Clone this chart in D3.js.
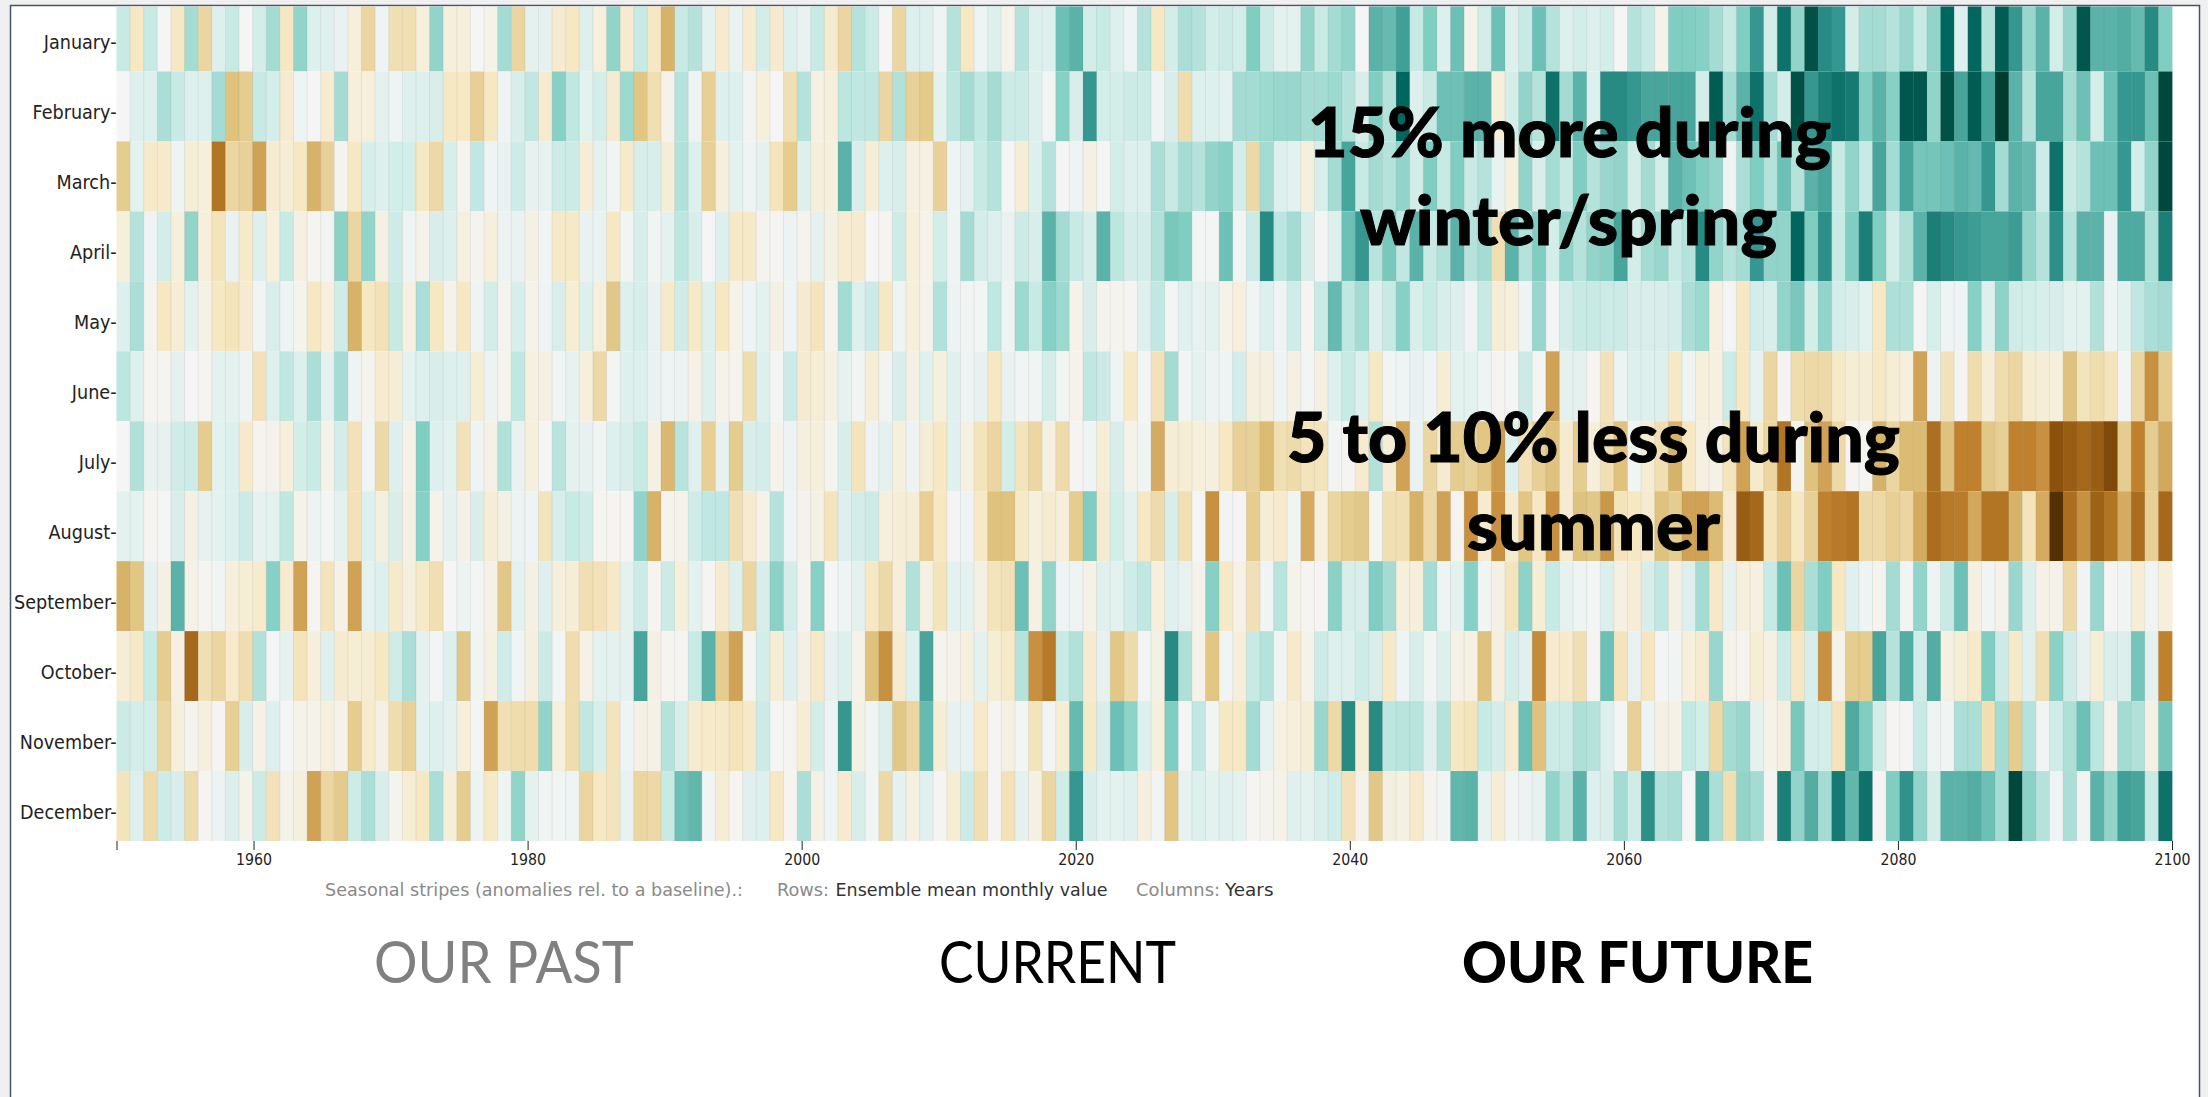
<!DOCTYPE html>
<html>
<head>
<meta charset="utf-8">
<title>Seasonal stripes</title>
<script src="https://cdn.jsdelivr.net/npm/d3@7"></script>
<style>
  html, body { margin: 0; padding: 0; background: #f0f0f0; overflow: hidden; }
  svg { display: block; }
  text { font-family: "DejaVu Sans", sans-serif; }
</style>
</head>
<body>
<div id="stripes"></div>
<script>
// rows of the heatmap
var monthNames = ["January", "February", "March", "April", "May", "June", "July", "August", "September", "October", "November", "December"];

// one value per year, 1950 to 2100 (+ wetter / teal, - drier / brown)
var january = [2,-2,2,0,-2,3,-3,1,2,0,1.5,3,-2,3.5,1,1,.5,-1,-3,.3,-2.5,-2.5,-1,3.5,-1,-1,0,-.5,3,-3,.7,.7,-1.5,-2,1,-1,3.5,-1.5,2,-2,-4.5,2,2.5,.7,-1.5,
  .5,-1.5,1.5,-1.5,1,.5,2,-1.5,-3,2.5,1.8,0,-3,1,1,.3,2.5,-2,.3,1,-.5,2.5,1,1,4.5,5,1.5,2,1,.3,2.5,-2,1.5,2.8,2.5,1.5,1.8,1.5,4,1.8,.8,.8,3.5,2,3,3.5,0,5,4.7,5.7,2,4,1,4.5,
  -.5,1.5,4.5,1,2,4.5,2.5,1,1.5,1,1.5,0,2.5,2,-.5,4,4,3.8,3,2,4,6,1.5,7.5,3.5,9,6.5,6,1.5,3,3,2.5,3.3,2,3.5,8,1,8,2.5,8.5,6,3.3,5,1.5,3.5,8.7,5,5,5.2,4.7,6.5,4];
var february = [0,1,1,2.8,2,1,1,3,-4,-3.5,2,1.5,-1.5,.3,0,-1.5,3,-1,-1,.7,.3,1,1,1.2,-2,-2,-3.3,-2,.3,1.3,2.2,-1.5,3.8,2.2,.8,1.5,-1.5,3.2,-3.8,-2.5,-.4,2.5,.3,-3.3,1,
  1,.2,-1,0,-2.5,2.5,-.8,-1,2.3,2.2,2.2,-3,2.6,-3.2,-3.6,.8,2.3,3,2.2,3,1.8,1.8,1,.2,3.8,1.2,6,1.5,1.5,1.8,1.8,.3,1.2,-2.6,1,1,.8,3,3,3.2,3.3,3.3,3,3,3.2,2.5,1.2,4,2.5,8,1,2,4.5,4.5,
  5,5,-1,1.5,3.5,2.5,7.5,3,5,1,6.5,6.5,6,5.5,5.5,5.5,5.5,1.5,8.5,3,5,7.5,3,1.5,9,6,7,7.5,7.2,4,5,3.8,8.7,8.7,3.5,9,5.5,8.5,5.5,10,5,2.5,5.5,5.5,3,4.5,1.5,4.5,6,6,4.5,9.5];
var march = [-3.5,.8,-1.7,-1.7,.3,-1.2,-1,-6.5,-3,-3.2,-5,-1.5,-1.2,-2,-4.5,-3.2,-.3,-2,1.3,1,1.5,1.5,-2,-2.8,1.3,-.3,2.2,.3,.5,1.7,.6,.6,1.7,1.8,-1.2,.8,.2,-1.7,1.3,1.2,-1.2,2.6,1,-3.2,-1,
  .8,.3,.7,-2.2,-3.5,1,-1,-1,5,1.2,-1.2,1,1.2,-.8,-.8,-3.2,.3,.7,2,2.5,0,-1.2,1,2.5,0,.3,-.8,0,1.5,1,1,2.8,2,3,2.5,3.5,3.8,1.4,-2.8,3,1,.8,-1,1.3,3,5.5,2,3,2.5,3.5,1.5,4,2,4,
  2,2.5,.5,-1,3.5,1.2,3,2,4,2.5,3.3,3.5,1.5,3,1.5,5,4.5,4,3.5,.3,2.8,4,2.5,4.5,2.5,5,5.5,2,3.5,2,5.5,3,5.5,4.3,4.3,4.5,5,4.7,6,3,5,4.7,1.7,7.5,2,2.5,4.5,4.5,6,1.5,3.5,9.5];
var april = [-1,2.5,.3,1.5,-1,3.5,-1,-2.2,.5,-1.7,1,-1,2,-.8,-.2,.2,3.7,-3,3.5,-.7,1.7,.3,-.5,1.2,1,-.9,-.3,-1,.4,.5,-.7,.2,-1.8,-1.8,.5,.5,-2,.2,1.3,.2,.8,2.3,1.3,0,1,
  -1.8,-1.8,-.3,-.1,.4,-.3,.8,-.7,-1.4,-1.5,0,-.2,1.7,-1,-.5,1.5,.3,3,1.4,1,.5,1.8,1.3,5,3,2,1.3,5,2.3,1.4,1.4,2.6,4.2,4,.2,.1,4.5,.2,1.8,6.5,2.3,3,1.2,.1,1,4.5,6,2.4,4.2,2.2,5,2,2.6,5,
  2.5,3,-2.5,5,2.5,4,1.5,3.5,2.5,3.5,3.8,5.5,1.5,3,3.3,2,2.5,6.5,3.5,2.5,3,6,3.5,3.5,8,4,6.3,2,4,7,4,1.5,2.7,5,7,6.5,6,5.8,5.5,5.5,5.8,3.5,2.5,6.3,2.5,5,5,.5,5.3,5.3,2.7,7];
var may = [1,2.8,-.3,-2,-1.2,.8,-.6,-2,-2.2,-1.5,.2,1.2,.3,-.3,-2,-1,1.6,-4.5,-2,-2.3,2,-.8,2.8,-2,-.5,-2,.3,1.5,-.3,1.3,-.5,.3,1.2,-1.3,1,-1,-3.7,1,1.3,.5,-1.7,1.6,-1.8,1,-2,
  -.5,.3,.8,-.7,.3,-1.5,-2.2,-.3,3,1,1.8,-2,.3,-1,-.5,2.6,.4,.2,.1,2.2,.3,3.2,2,3.8,3.2,-.5,1.2,-.3,-.3,-.1,1,2.2,.1,.9,.6,.8,-.5,-1,.2,1,.3,1.6,-.2,2,4.7,2.2,3,1,2,3.8,1.3,2,1.2,1,
  .3,2,-1.2,-1,.3,3.3,.1,1.4,2,2,1.8,1.8,1.2,1.2,1.2,1.4,2.8,3.2,-.8,.1,-2,1.4,1.3,3.5,4.2,1.5,3.5,1.4,1.2,.8,-2,2.7,2.7,.1,1.3,.3,.3,3.8,1,3.6,1.6,1.5,1.3,1.2,.8,.8,2.6,.3,.8,2.2,2.8,3];
var june = [2.3,1,-.2,-.2,.7,0,-.2,.8,.7,.3,-2.3,1,2.2,1,2.8,.8,3,.3,-.3,-1.5,-1.2,.8,1,1.2,1,1,-1.3,.4,-.3,2.2,-.8,-.7,.2,.6,-1,-2.8,.1,1,1,.5,.3,.4,-.6,1,-.5,
  -.3,-2.6,1,.1,1.8,-1.5,-1.2,-.8,.6,.2,-1.2,.2,1.2,-.7,.9,-1,.9,.3,.6,-2,.5,.2,.2,1.5,.2,-.4,2.2,1.8,.3,-1.8,.1,-2.3,3,.2,.7,.4,.3,1.4,-.9,-.9,.3,-.7,.1,-.9,1,2,1,-2,.2,.3,.5,.3,-1.3,.8,
  .8,.3,-.1,0,1.8,.1,-5,.7,.7,-.2,-2.3,.4,1,1,1,-1.8,.3,-1,-.8,1.8,-2,.6,-3,-.1,-2.6,-2.8,-2.8,-1.8,-1.3,-1.2,-2,-1.2,-1,-5,.4,-2.3,-.1,-2.6,-1.2,-2.6,-3,-1.4,-1.2,-1,-4,-2.2,-2.6,-2.2,.1,-3,-5.5,-3.5];
var july = [0,2.6,.5,.6,1.6,1.7,-3.5,.8,1,-1.7,-.3,-.4,-1,1.5,1.9,-.5,1.4,-2.3,.2,-2.8,1,-.6,4,1,.8,-2.3,.3,-.6,2.6,.5,-1,0,2.4,.7,.6,.2,1,1.2,2,-.8,-4.3,2.4,.9,-3.3,.6,
  -3.5,1.2,1.4,-.4,.4,-.9,-1,-.3,1.3,-2.2,.4,.8,-1,.4,-1.2,-2,.9,-.8,-2.2,-3,1.5,-2.2,-2.9,-.8,-2.7,-.1,.3,-1.2,1.2,-.5,.2,-4.7,-1.2,-1.3,-1,-.9,-2,-3.3,-3.2,-4.2,-2.5,-2.7,-2.2,-2.2,.2,-.2,-1.5,2.6,-1.2,-5,.5,-3,-1.5,-3.5,
  -3.2,-3.8,-5.2,1,-2.3,-3.3,-4,-1.5,-3.5,-1,-2.5,-4,.2,-1.4,-2.5,-4.5,-2,-.8,-.6,-2.2,-5,-1.7,-3,-6.5,-.3,-4,-5,-2.8,-.2,-.2,-4.5,-3,-4.2,-4.2,-6.7,-4,-6,-6,-3.7,-3.3,-6,-6,-5.5,-8,-7.5,-7,-7.5,-8.5,-3.5,-6,-3.5,-4.8];
var august = [.7,.8,-.2,0,1.2,-.7,.6,.8,1,1.8,.6,.8,2.2,-.5,.4,.1,.7,-2.3,1,-.9,1.2,-.8,3.8,-.4,.8,-.6,1.2,-1.2,-.7,.4,.3,-2.2,1.3,2,1.6,-.2,-.2,-.1,3.5,-4.5,-.3,-.4,1.6,2.2,2.2,
  -2.5,-1.5,-.5,2.5,.3,-.4,-.7,-2.2,1,1.4,1.8,-1,-1.2,-1.2,-3.3,-2,.1,.3,-1.8,-4,-4,-1.8,-1,-1.5,-1,-3.5,4,-1.5,1.5,.8,-2,-2.7,1.3,-2.5,.1,-5.5,.2,-.1,-3.5,-1.2,-1.5,.2,-4.7,-1,-3,-3.5,-3.7,-.2,-2.5,-2.5,-4.5,-2.8,-5,-.3,
  -5.5,-1.5,-5.5,-1.5,-3.8,-2,-5.5,-1.5,-4,-3.7,-5.3,-2.2,-2,-1.5,-4,-3.5,-5,-5,-4.2,-1.5,-7.5,-7,-2.2,-3.3,-2,-3.3,-6,-6.3,-6.5,-2.8,-2.8,-3.3,-3,-4.7,-6.8,-6.3,-6.2,-4.8,-6.5,-6.5,-4.5,-2.2,-4.7,-10,-6.8,-5.5,-7.3,-6.5,-4.7,-6.8,-3.3,-7];
var september = [-4.5,-3.8,.6,-.7,5,-.6,-.2,.2,-1,-1.3,-1.6,3.8,-1.5,-5,-.2,-2.2,-.6,-5,.8,1,-1.7,-.9,-1.8,-2.5,0,.4,.1,-.6,-3.7,.8,-.7,1,-1,-1.2,-2.5,-2.3,-1.8,.7,1.8,-.2,1.8,-1,.8,-.2,-1.5,
  1,-3,1.2,3.7,1.4,-.3,3.8,0,.3,.7,-2,-2.8,-1.1,2.6,-.8,-2.2,.8,.8,-.7,-2.2,-2.4,4.5,-.8,3.5,.3,.3,-.6,.9,.8,1.6,2.2,-1,.9,.6,-.4,3.8,-1.8,-.6,-2.4,.2,2.4,-.5,-.2,-.1,3.7,1.3,1.2,4,3,-1,-1,3,.3,.8,
  3.8,.2,-.7,-2.2,3.6,-1.3,2,.6,.3,.1,1.1,-.8,-1.2,1.3,2.2,-.7,1,3,-1.8,.6,-1,-.8,2,4.5,-3,2.8,4,-2,.9,.3,-.3,3,.2,3.5,.3,2,4.5,-.8,.2,-.5,3.3,1.1,-.6,-.5,-2.8,.2,3.3,-.1,.2,-1.2,.2,-1];
var october = [-1.2,-1.8,2,-3.5,-.8,-7,-2.5,-3,-1.7,-2.6,2.6,.1,.6,-2.2,-1,.9,-1.5,-1.3,-1.4,-2,1.6,2.8,.7,.1,1,-3.7,.2,-.8,1.6,.2,-.9,1.8,.1,-2.6,-.6,.8,.7,.7,5.5,-.7,-.2,-.2,2,5,-3.5,
  -5,-.2,1.5,-1.3,1,-.7,-1.8,.6,1,-.5,-4,-5.5,-1.5,1,5.5,-.3,-.4,-1,.8,-1.3,-1.8,2.5,-5.5,-6.3,2,2.6,-1.5,.6,-3.7,-2.7,.2,-.7,6.5,2.7,-.5,-3.8,.2,-1.1,2,2.5,.2,-1.7,-.4,1.8,1,1,1.7,1.2,-1.8,.3,1.2,.2,1,-.6,
  -.8,-4,-.9,1.5,.9,-5.7,-1.5,-1.7,-2.5,-.1,4.5,-2.2,.5,-2.1,.1,.2,-1,-1.5,3.3,-.5,-.3,-1.3,-.8,1.7,-2,1.3,-5.5,-.5,-3.5,-3.5,5.5,2.5,5.2,1.6,5.2,-.7,-1.2,-1.7,4,1.8,-1.7,.9,-2.5,3.7,1.6,.6,-1.2,1.2,1.1,4.3,.7,-6];
var november = [1.8,1.4,1.5,-3,-1,-.3,-.9,-.1,-3.3,1.2,-.6,1,0,-.5,-.5,-1,-.4,-3.5,-1.6,-.7,-2.6,-3.2,.8,1,.8,-1,.1,-5,-2.5,-2.6,-2.6,3.5,-1,-2.6,2.2,1.3,-2.2,.3,-.7,-.6,2.5,1.3,-1.5,-1.7,-1.8,
  -2.2,-1.8,1.8,0,-.2,-1.3,1.5,.3,6,-.7,.2,1.1,-3.7,-3,4.7,-1.3,.6,.6,-1.7,-.1,-.7,.1,-2.2,.2,-1.3,4.7,-1.8,1.2,4.5,3.6,1,-1,4,.1,2.2,.2,-2,-2,3,.6,-.8,-1,-1.2,3.3,-2.8,6.5,-1.3,6.5,2.3,2.4,2.4,.9,2.5,-2,
  -2.2,2,1.4,-1.5,4.5,-4,1.8,1.8,2.7,2.5,1,.1,-3.2,.3,-.7,-.6,2.1,1.5,-2.8,3,3.3,.7,-.5,-.9,4.2,1.4,1.5,-2.2,5.3,4,1.5,-.1,-.1,2,.3,.2,2.8,2.8,-2.5,3,-3.5,2.5,.2,1.6,2.7,4.5,2.3,-.4,3,2.6,-.7,4.3];
var december = [-2.2,1,-2.7,1.7,1.2,-2.7,-.2,.4,1.1,-.5,1.8,-2.3,-.5,-.9,-5,-3,-3.6,1.7,2.8,1.2,-.3,-1.3,-2,2.8,-1.1,-3.5,.4,-1.8,.3,3.5,.7,.2,.2,.3,-3,-2,-2.2,.5,-3,-2.8,2,4.5,4.8,.2,-1.2,
  -.2,.9,1,-2,-.2,2.8,-.7,.3,-1.5,1.2,.2,-2.8,.7,-.8,.9,-.1,-1.3,1.8,-2.5,-.1,-2.3,.7,-.8,-3,1.6,6,1.2,.8,.8,.9,-.9,.2,-3.8,.6,1,.8,.9,.8,-.1,-.3,-.5,.9,.8,1.2,1.6,-2.3,-.4,-3.7,-.9,-.7,-1.7,-.3,.2,4.8,
  5,.5,-1.2,.2,.4,.6,3.5,2.4,5,1,1.2,3,1.6,6.3,2.6,2.8,.1,5.8,2.8,-2.5,3.5,3,-.2,7,3.5,5.2,3,7.2,4.8,7.5,-.1,4,6.2,3.5,1.5,5,5,5.2,4.5,3,9.5,3.7,2.5,.3,2.8,.2,5,3.5,5.7,5.5,2,7.5];

var monthValues = [january, february, march, april, may, june, july, august, september, october, november, december];

// x axis
var yearTicks = [1950, 1960, 1980, 2000, 2020, 2040, 2060, 2080, 2100];
var firstYear = 1950, lastYear = 2100;
var years = d3.range(firstYear, lastYear + 1);

// BrBG stops, piecewise linear
var colorStops = ["#543005", "#8c510a", "#bf812d", "#dfc27d", "#f6e8c3", "#f5f5f5", "#c7eae5", "#80cdc1", "#35978f", "#01665e", "#003c30"];

var width = 2208, height = 1097;
var margin = {top: 1.5, right: 36, bottom: 256, left: 116.5};

var svg = d3.select("#stripes")
  .append("svg")
    .attr("width", width)
    .attr("height", height);

// slide background and frame
svg.append("rect")
    .attr("x", 10.5).attr("y", 5.5)
    .attr("width", 2189).attr("height", 1100)
    .attr("fill", "white")
    .attr("stroke", "#44546a")
    .attr("stroke-width", 1.5);

svg.append("clipPath")
    .attr("id", "plotClip")
  .append("rect")
    .attr("x", 0).attr("y", 6.5)
    .attr("width", width).attr("height", height);

// cells span 151 years, the axis runs over the same width
var x = d3.scaleBand()
  .domain(years)
  .range([margin.left, width - margin.right]);

var xAxisScale = d3.scaleLinear()
  .domain([firstYear, lastYear])
  .range([margin.left, width - margin.right]);

var y = d3.scaleBand()
  .domain(monthNames)
  .range([margin.top, height - margin.bottom]);

var color = d3.scaleLinear()
  .domain(d3.range(-10, 11, 2))
  .range(colorStops);

var plot = svg.append("g").attr("clip-path", "url(#plotClip)");

var rows = plot.selectAll("g.row")
  .data(monthNames)
  .enter()
  .append("g")
    .attr("class", "row")
    .attr("transform", function(d) { return "translate(0," + y(d) + ")"; });

rows.selectAll("rect")
  .data(function(d, i) { return monthValues[i]; })
  .enter()
  .append("rect")
    .attr("x", function(d, i) { return x(years[i]); })
    .attr("width", x.bandwidth() + 0.4)
    .attr("height", y.bandwidth())
    .attr("fill", function(d) { return color(d); });

// thin separators between the columns
plot.selectAll("line.sep")
  .data(years.slice(1))
  .enter()
  .append("line")
    .attr("class", "sep")
    .attr("x1", function(d) { return x(d); })
    .attr("x2", function(d) { return x(d); })
    .attr("y1", margin.top)
    .attr("y2", height - margin.bottom)
    .attr("stroke", "#777")
    .attr("stroke-opacity", 0.16)
    .attr("stroke-width", 0.8);

// Y axis, the dash is part of the label
var yAxis = svg.append("g")
    .attr("transform", "translate(" + margin.left + ",6.5)")
    .call(d3.axisLeft(y).tickSize(0).tickPadding(0).tickFormat(function(d) { return d + "-"; }));
yAxis.select(".domain").remove();
yAxis.selectAll("text")
    .attr("transform", "scale(0.88,1)")
    .style("font-size", "20px")
    .attr("fill", "#222");

// X axis
var xAxis = svg.append("g")
    .attr("transform", "translate(0," + (height - margin.bottom) + ")")
    .call(d3.axisBottom(xAxisScale)
      .tickValues(yearTicks)
      .tickSize(9)
      .tickPadding(4)
      .tickFormat(function(d) { return d == firstYear ? "" : d; }));
xAxis.select(".domain").remove();
xAxis.selectAll("line").attr("stroke", "#222");
xAxis.selectAll("text")
    .attr("textLength", function(d) { return d == firstYear ? null : 36; })
    .attr("lengthAdjust", "spacingAndGlyphs")
    .style("font-size", "16px")
    .attr("fill", "#222");

// helper for the text pieces that are squeezed in the original
function label(txt, px, py, w, size, weight, fill, family) {
  return svg.append("text")
    .attr("x", px)
    .attr("y", py)
    .attr("textLength", w)
    .attr("lengthAdjust", "spacingAndGlyphs")
    .attr("fill", fill)
    .style("font-size", size + "px")
    .style("font-weight", weight)
    .style("font-family", family || "'DejaVu Sans', sans-serif")
    .text(txt);
}

// caption under the axis
label("Seasonal stripes (anomalies rel. to a baseline).:", 325, 896, 418, 17, 400, "#8a8a8a");
label("Rows:", 777, 896, 52, 17, 400, "#8a8a8a");
label("Ensemble mean monthly value", 835.5, 896, 272, 17, 400, "#333");
label("Columns:", 1136, 896, 84, 17, 400, "#8a8a8a");
label("Years", 1225, 896, 48.5, 17, 400, "#333");

// periods
var lato = "Lato, 'Open Sans', sans-serif";
label("OUR PAST", 374, 983, 260, 58, 400, "#808080", lato);
label("CURRENT", 939, 983, 237, 58, 400, "#000", lato);
label("OUR FUTURE", 1462, 983, 351, 58, 900, "#000", lato);

// annotations on top of the stripes
var notes = [
  label("15% more during", 1308, 157, 523, 68, 900, "#000", lato),
  label("winter/spring", 1360, 245, 417, 68, 900, "#000", lato),
  label("5 to 10% less during", 1287, 462, 613, 68, 900, "#000", lato),
  label("summer", 1467, 550, 253, 68, 900, "#000", lato)
];
notes.forEach(function(n) { n.attr("stroke", "#000").attr("stroke-width", 1); });
</script>
</body>
</html>
